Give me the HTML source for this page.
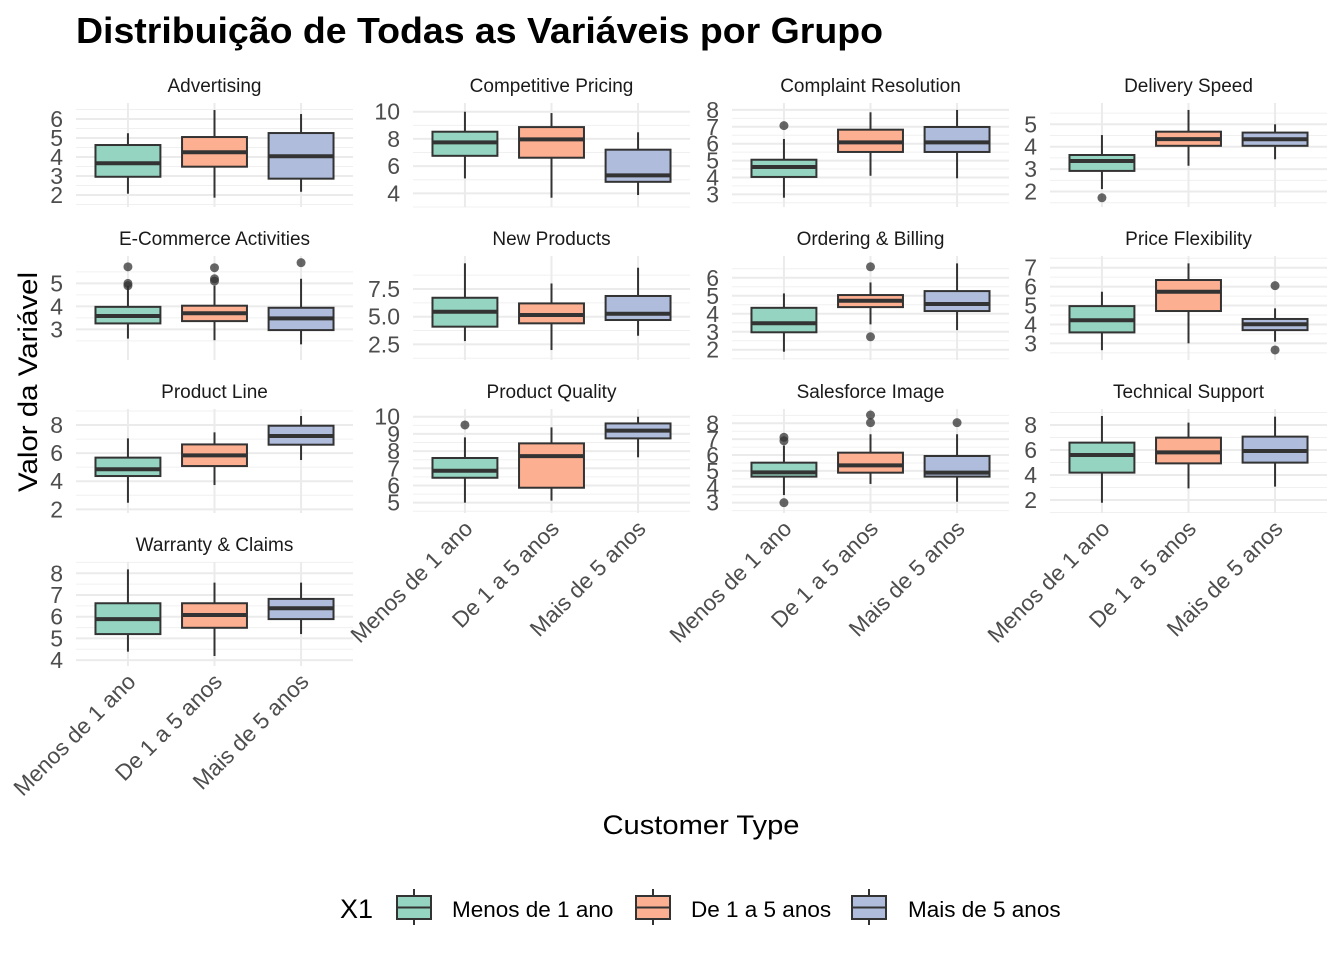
<!DOCTYPE html>
<html><head><meta charset="utf-8">
<style>
html,body{margin:0;padding:0;background:#fff;}
svg{display:block;font-family:"Liberation Sans",Arial,sans-serif;}
</style></head>
<body>
<svg id="chart" width="1344" height="960" viewBox="0 0 1344 960">
<text x="76" y="43" font-size="36" font-weight="bold" fill="#000" textLength="807" lengthAdjust="spacingAndGlyphs">Distribuição de Todas as Variáveis por Grupo</text>
<text transform="translate(37,382) rotate(-90)" text-anchor="middle" font-size="27" fill="#000" textLength="220" lengthAdjust="spacingAndGlyphs">Valor da Variável</text>
<text x="701" y="834" text-anchor="middle" font-size="27" fill="#000" textLength="197" lengthAdjust="spacingAndGlyphs">Customer Type</text>
<g id="panels"></g>
<g id="legend">
<text x="340" y="918" font-size="27" fill="#000">X1</text>
</g>
</svg>
<script>
const NS="http://www.w3.org/2000/svg";
const groups=["Menos de 1 ano","De 1 a 5 anos","Mais de 5 anos"];
const fills=["#94D4C0","#FDAF91","#AFBCDB"];
const panelNames=["Advertising","Competitive Pricing","Complaint Resolution","Delivery Speed","E-Commerce Activities","New Products","Ordering & Billing","Price Flexibility","Product Line","Product Quality","Salesforce Image","Technical Support","Warranty & Claims"];
// stats per panel: per group [lowerWhisker, q1, median, q3, upperWhisker]
const statsAdvertising=[[2.07,2.96,3.67,4.63,5.25],[1.86,3.49,4.25,5.05,6.47],[2.17,2.86,4.04,5.26,6.26]];
const statsCompetitive=[[5.1,6.76,7.75,8.53,10.0],[3.68,6.62,7.97,8.87,9.9],[3.88,4.85,5.32,7.21,8.49]];
const statsComplaint=[[2.8,4.03,4.62,5.05,6.28],[4.1,5.51,6.08,6.83,7.86],[3.95,5.51,6.08,6.99,8.0]];
const statsDelivery=[[2.11,2.92,3.36,3.63,4.52],[3.15,4.04,4.34,4.67,5.64],[3.44,4.04,4.33,4.63,5.0]];
const statsEcommerce=[[2.6,3.26,3.58,3.98,4.9],[2.53,3.36,3.7,4.03,4.9],[2.35,2.97,3.48,3.94,5.2]];
const statsNewProducts=[[2.8,4.1,5.45,6.71,9.82],[1.99,4.4,5.15,6.2,8.0],[3.28,4.7,5.27,6.87,9.42]];
const statsOrdering=[[1.89,2.97,3.47,4.33,5.13],[3.41,4.37,4.72,5.04,5.74],[3.09,4.15,4.54,5.26,6.8]];
const statsPrice=[[2.64,3.58,4.22,4.97,5.73],[3.0,4.71,5.73,6.35,7.23],[3.09,3.7,4.01,4.29,4.85]];
const statsProductLine=[[2.47,4.37,4.85,5.68,7.05],[3.73,5.08,5.84,6.62,7.48],[5.51,6.6,7.22,7.95,8.64]];
const statsQuality=[[5.0,6.45,6.86,7.6,8.8],[5.12,5.87,7.71,8.45,9.38],[7.64,8.74,9.19,9.61,10.0]];
const statsSalesforce=[[3.48,4.64,4.91,5.52,6.6],[4.18,4.89,5.35,6.15,7.31],[3.06,4.64,4.89,5.94,7.31]];
const statsTechnical=[[1.78,4.19,5.6,6.59,8.72],[2.93,4.93,5.81,6.99,8.19],[3.07,4.99,5.92,7.07,8.67]];
const statsWarranty=[[4.39,5.2,5.89,6.62,8.18],[4.19,5.49,6.08,6.62,7.57],[5.2,5.89,6.39,6.82,7.57]];
const allStats=[statsAdvertising,statsCompetitive,statsComplaint,statsDelivery,statsEcommerce,statsNewProducts,statsOrdering,statsPrice,statsProductLine,statsQuality,statsSalesforce,statsTechnical,statsWarranty];
// outliers per panel per group
const outliers=[
 [[],[],[]],
 [[],[],[]],
 [[7.07],[],[]],
 [[1.72],[],[]],
 [[5.72,5.0,4.9],[5.68,5.2,5.1],[5.9]],
 [[],[],[]],
 [[],[6.61,2.72],[]],
 [[],[],[6.05,2.65]],
 [[],[],[]],
 [[9.52],[],[]],
 [[7.12,6.9,3.0],[8.52,8.04],[8.04]],
 [[],[],[]],
 [[],[],[]]
];
// y-axis limits (value at panel bottom, value at panel top)
const yLimits=[[1.37,6.84],[3.0,10.64],[2.25,8.41],[1.31,5.95],[1.67,6.19],[1.09,10.48],[1.43,7.21],[2.12,7.62],[1.74,9.14],[4.4,10.45],[2.35,8.9],[0.96,9.28],[3.73,8.52]];
const yTicks=[[2,3,4,5,6],[4,6,8,10],[3,4,5,6,7,8],[2,3,4,5],[3,4,5],[2.5,5.0,7.5],[2,3,4,5,6],[3,4,5,6,7],[2,4,6,8],[5,6,7,8,9,10],[3,4,5,6,7,8],[2,4,6,8],[4,5,6,7,8]];
const tickLabels=[["2","3","4","5","6"],["4","6","8","10"],["3","4","5","6","7","8"],["2","3","4","5"],["3","4","5"],["2.5","5.0","7.5"],["2","3","4","5","6"],["3","4","5","6","7"],["2","4","6","8"],["5","6","7","8","9","10"],["3","4","5","6","7","8"],["2","4","6","8"],["4","5","6","7","8"]];

const colLeft=[76,413,732,1050], PW=277, rowTop=[103,256,409,562], PH=104;
const root=document.getElementById('panels');
function mk(tag,attrs,parent){const e=document.createElementNS(NS,tag);for(const k in attrs)e.setAttribute(k,attrs[k]);(parent||root).appendChild(e);return e;}

panelNames.forEach((name,p)=>{
  const c=p%4,r=Math.floor(p/4);
  const L=colLeft[c],T=rowTop[r];
  const [lo,hi]=yLimits[p];
  const y=v=>T+PH-(v-lo)/(hi-lo)*PH;
  const x=i=>L+(i+0.6)/3.2*PW;
  const bw=0.75/3.2*PW;
  const g=mk('g',{});
  
  
  const st=mk('text',{x:L+PW/2,y:T-11,'text-anchor':'middle','font-size':'19',fill:'#1A1A1A'},g);
  st.textContent=name;
  
  
  const tk=yTicks[p]; const step=tk[1]-tk[0];
  for(let v=tk[0]-step/2; v<=hi; v+=step){ if(v>=lo){const gl=mk('line',{x1:L,x2:L+PW,y1:y(v),y2:y(v),stroke:'#F0F0F0','stroke-width':1},g);
    
    }}
  tk.forEach((v,i)=>{
    const gl=mk('line',{x1:L,x2:L+PW,y1:y(v),y2:y(v),stroke:'#EBEBEB','stroke-width':2},g);
    
    
    const t=mk('text',{x:L-13,y:y(v)+8,'text-anchor':'end','font-size':'23',fill:'#4D4D4D'},g);
    t.textContent=tickLabels[p][i];
    
    
  });
  for(let i=0;i<3;i++){const vl=mk('line',{x1:x(i),x2:x(i),y1:T,y2:T+PH,stroke:'#EBEBEB','stroke-width':2},g);
    
    }
  allStats[p].forEach((s,i)=>{
    const bg=mk('g',{},g);
    
    
    mk('line',{x1:x(i),x2:x(i),y1:y(s[0]),y2:y(s[1]),stroke:'#333','stroke-width':2},bg);
    mk('line',{x1:x(i),x2:x(i),y1:y(s[3]),y2:y(s[4]),stroke:'#333','stroke-width':2},bg);
    mk('rect',{x:x(i)-bw/2,y:y(s[3]),width:bw,height:y(s[1])-y(s[3]),fill:fills[i],stroke:'#333','stroke-width':2},bg);
    mk('line',{x1:x(i)-bw/2,x2:x(i)+bw/2,y1:y(s[2]),y2:y(s[2]),stroke:'#333','stroke-width':4},bg);
    outliers[p][i].forEach(v=>{
      const o=mk('circle',{cx:x(i),cy:y(v),r:4.5,fill:'#333','fill-opacity':0.75},bg);
      
      
    });
  });
  const isBottom=(r===3)||(r===2&&c>0);
  if(isBottom){
    groups.forEach((gname,i)=>{
      const t=mk('text',{transform:`translate(${x(i)+9},${T+PH+17}) rotate(-45)`,'text-anchor':'end','font-size':'22.5',fill:'#4D4D4D'},g);
      t.textContent=gname;
      
      
    });
  }
});

const leg=document.getElementById('legend');
const legKeyX=[397,636,852], legLabelX=[452,691,908];
groups.forEach((gname,i)=>{
  const kg=document.createElementNS(NS,'g');
  
  
  leg.appendChild(kg);
  const cx=legKeyX[i]+17;
  mk('line',{x1:cx,x2:cx,y1:889,y2:925,stroke:'#333','stroke-width':2},kg);
  mk('rect',{x:legKeyX[i],y:896,width:34,height:23,fill:fills[i],stroke:'#333','stroke-width':2},kg);
  mk('line',{x1:legKeyX[i],x2:legKeyX[i]+34,y1:907.5,y2:907.5,stroke:'#333','stroke-width':2},kg);
  const t=mk('text',{x:legLabelX[i],y:917,'font-size':'22.5',fill:'#000'},kg);
  t.textContent=gname;
});
</script>
</body></html>
